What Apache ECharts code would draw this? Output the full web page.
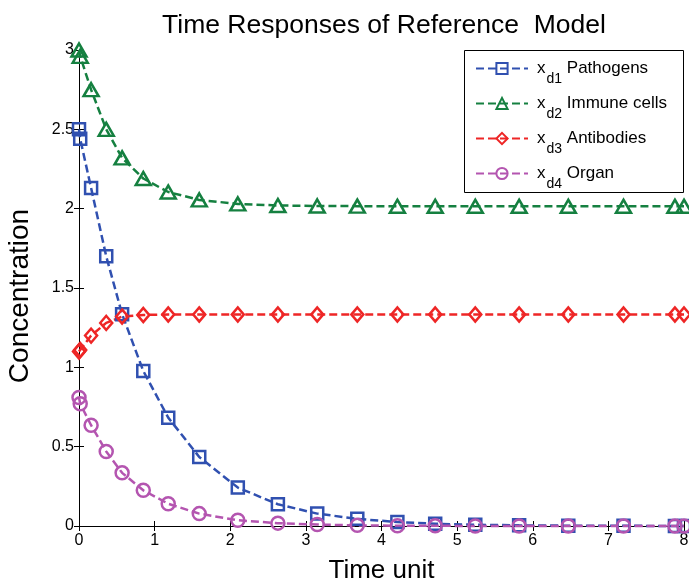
<!DOCTYPE html>
<html>
<head>
<meta charset="utf-8">
<script src="https://cdn.jsdelivr.net/npm/echarts@6/dist/echarts.min.js"></script>
<style>html,body{margin:0;padding:0;background:#fff}#c{width:689px;height:581px}</style>
</head>
<body>
<div id="c"></div>
<script>
const times      = [0, 0.016, 0.16, 0.36, 0.57, 0.85, 1.18, 1.59, 2.10, 2.63, 3.15, 3.68, 4.21, 4.71, 5.24, 5.82, 6.47, 7.20, 7.88, 8.00];
const pathogens  = [2.50, 2.44, 2.13, 1.70, 1.335, 0.977, 0.683, 0.435, 0.242, 0.137, 0.078, 0.045, 0.025, 0.014, 0.008, 0.004, 0.002, 0.001, 0.0005, 0.0004];
const immune     = [3.00, 2.96, 2.75, 2.50, 2.32, 2.19, 2.105, 2.055, 2.03, 2.02, 2.017, 2.016, 2.015, 2.015, 2.015, 2.015, 2.015, 2.015, 2.015, 2.015];
const antibodies = [1.10, 1.11, 1.20, 1.28, 1.32, 1.33, 1.333, 1.333, 1.333, 1.333, 1.333, 1.333, 1.333, 1.333, 1.333, 1.333, 1.333, 1.333, 1.333, 1.333];
const organ      = [0.81, 0.77, 0.635, 0.47, 0.335, 0.225, 0.14, 0.078, 0.036, 0.018, 0.009, 0.004, 0.002, 0.001, 0.0005, 0.0003, 0.0002, 0.0001, 0.0001, 0.0001];
const seriesNames = ['x_d1 Pathogens', 'x_d2 Immune cells', 'x_d3 Antibodies', 'x_d4 Organ'];
const legendSubs  = ['d1', 'd2', 'd3', 'd4'];
const legendTexts = ['Pathogens', 'Immune cells', 'Antibodies', 'Organ'];
const xTicks = ['0','1','2','3','4','5','6','7','8'];

const FONT = '"Liberation Sans", Arial, sans-serif';
const colors = ['#3050B0', '#158040', '#EE2626', '#B455B0'];
const symbols = ['rect', 'triangle', 'diamond', 'circle'];
const sizes = [[12,12], [15,13], [12,14], [13,13]];
const values = [pathogens, immune, antibodies, organ];

const chart = echarts.init(document.getElementById('c'), null, {renderer: 'canvas'});

const series = values.map((vals, k) => ({
  name: seriesNames[k],
  type: 'line',
  data: times.map((t, i) => [t, vals[i]]),
  symbol: symbols[k],
  symbolSize: sizes[k],
  showAllSymbol: true,
  clip: false,
  smooth: false,
  lineStyle: {color: colors[k], width: 2.5, type: [8, 4]},
  itemStyle: {color: 'rgba(255,255,255,0)', borderColor: colors[k], borderWidth: 2.5},
  emphasis: {disabled: true},
  z: 3
}));

const commonAxisLine = {show: true, lineStyle: {color: '#000', width: 1}};

chart.setOption({
  animation: false,
  backgroundColor: '#fff',
  title: {
    text: 'Time Responses of Reference  Model',
    left: 379, top: 7, textAlign: 'center',
    textStyle: {fontFamily: FONT, fontSize: 26.5, fontWeight: 'normal', color: '#000'}
  },
  graphic: [{
    type: 'rect', left: 464, top: 50, z: 50,
    shape: {width: 219, height: 142},
    style: {fill: '#fff', stroke: '#000', lineWidth: 1}
  }],
  legend: {
    orient: 'vertical', left: 475, top: 51, padding: 0, itemGap: 0,
    itemWidth: 52, itemHeight: 14, z: 60,
    data: seriesNames,
    formatter: function (name) {
      const k = seriesNames.indexOf(name);
      return '{x|x}{sub|' + legendSubs[k] + '}{t| ' + legendTexts[k] + '}';
    },
    textStyle: {
      fontFamily: FONT, color: '#000',
      rich: {
        x: {fontFamily: FONT, fontSize: 17, lineHeight: 20, color: '#000', padding: [0, 0, 0, 4]},
        sub: {fontFamily: FONT, fontSize: 14, lineHeight: 14, padding: [21, 0, 0, 1], color: '#000'},
        t: {fontFamily: FONT, fontSize: 17, lineHeight: 20, color: '#000'}
      }
    }
  },
  grid: {left: 79, right: 5, top: 50, bottom: 55, containLabel: false, outerBoundsMode: 'none'},
  xAxis: [{
    type: 'value', min: 0, max: 8, interval: 1,
    name: 'Time unit', nameLocation: 'middle', nameGap: 32,
    nameTextStyle: {fontFamily: FONT, fontSize: 26, color: '#000'},
    axisLine: commonAxisLine,
    axisTick: {show: true, inside: true, length: 5, lineStyle: {color: '#000'}},
    axisLabel: {fontFamily: FONT, fontSize: 16, color: '#000', margin: 7,
      formatter: v => xTicks[Math.round(v)] !== undefined ? xTicks[Math.round(v)] : ''},
    splitLine: {show: false}
  }, {
    type: 'value', min: 0, max: 8, interval: 1, position: 'top',
    axisLine: commonAxisLine,
    axisTick: {show: true, inside: true, length: 5, lineStyle: {color: '#000'}},
    axisLabel: {show: false}, splitLine: {show: false}
  }],
  yAxis: [{
    type: 'value', min: 0, max: 3, interval: 0.5,
    name: 'Concentration', nameLocation: 'middle', nameGap: 45,
    nameTextStyle: {fontFamily: FONT, fontSize: 28, color: '#000', padding: [0, 16, 0, 0]},
    axisLine: commonAxisLine,
    axisTick: {show: true, inside: true, length: 5, lineStyle: {color: '#000'}},
    axisLabel: {fontFamily: FONT, fontSize: 16, color: '#000', margin: 5},
    splitLine: {show: false}
  }, {
    type: 'value', min: 0, max: 3, interval: 0.5, position: 'right',
    axisLine: commonAxisLine,
    axisTick: {show: true, inside: true, length: 5, lineStyle: {color: '#000'}},
    axisLabel: {show: false}, splitLine: {show: false}
  }],
  series: series
});
</script>
</body>
</html>
